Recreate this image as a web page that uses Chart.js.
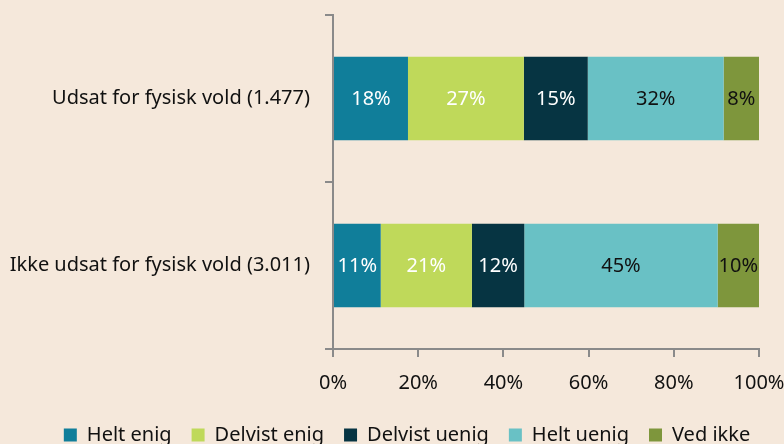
<!DOCTYPE html>
<html lang="da">
<head>
<meta charset="utf-8">
<title>Fysisk vold</title>
<script src="https://cdn.jsdelivr.net/npm/chart.js@4/dist/chart.umd.min.js"></script>
<style>
  body { margin: 0; background: #f5e8db; }
  #wrap { width: 784px; height: 444px; position: relative; }
</style>
</head>
<body>
<div id="wrap"><canvas id="voldChart"></canvas></div>
<script>
// groups on the y axis
const groups = ['Udsat for fysisk vold (1.477)', 'Ikke udsat for fysisk vold (3.011)'];

// answer categories (one dataset each)
const answers = ['Helt enig', 'Delvist enig', 'Delvist uenig', 'Helt uenig', 'Ved ikke'];

// share in percent (first = udsat, second = ikke udsat)
const heltEnig = [17.6, 11.2];
const delvistEnig = [27.2, 21.4];
const delvistUenig = [15.0, 12.3];
const heltUenig = [31.9, 45.4];
const vedIkke = [8.3, 9.7];

const xTicks = [0, 20, 40, 60, 80, 100];

const colors = ['#107e9a', '#bfd95a', '#063442', '#69c1c5', '#7e963c'];
const labelColors = ['#ffffff', '#ffffff', '#ffffff', '#111111', '#111111'];

const FONT = '"Noto Sans", "Open Sans", sans-serif';
const AXIS_GREY = '#8a8a8a';

function initChart() {
  const series = [heltEnig, delvistEnig, delvistUenig, heltUenig, vedIkke];

  const datasets = answers.map((name, i) => ({
    label: name,
    data: series[i],
    backgroundColor: colors[i],
    borderWidth: 0,
    barPercentage: 0.5,
    categoryPercentage: 1.0
  }));

  // write the rounded percent in the middle of each segment
  const barLabels = {
    id: 'barLabels',
    afterDatasetsDraw(chart) {
      const ctx = chart.ctx;
      ctx.save();
      ctx.font = '20px ' + FONT;
      ctx.textAlign = 'center';
      ctx.textBaseline = 'middle';
      chart.data.datasets.forEach((ds, i) => {
        const meta = chart.getDatasetMeta(i);
        meta.data.forEach((bar, j) => {
          ctx.fillStyle = labelColors[i];
          ctx.fillText(Math.round(ds.data[j]) + '%', (bar.x + bar.base) / 2, bar.y + 1);
        });
      });
      ctx.restore();
    }
  };

  // legend sits a bit right of centre in the original
  const nudgeLegend = {
    id: 'nudgeLegend',
    afterLayout(chart) {
      if (chart.legend) chart.legend.left += 30;
    }
  };

  new Chart(document.getElementById('voldChart'), {
    type: 'bar',
    data: { labels: groups, datasets: datasets },
    plugins: [barLabels, nudgeLegend],
    options: {
      indexAxis: 'y',
      responsive: true,
      maintainAspectRatio: false,
      animation: false,
      layout: { padding: { top: 15, left: 0, right: 0, bottom: -11 } },
      plugins: {
        tooltip: { enabled: false },
        legend: {
          position: 'bottom',
          labels: {
            font: { family: FONT, size: 20 },
            color: '#111',
            boxWidth: 13,
            boxHeight: 13,
            padding: 20
          }
        }
      },
      scales: {
        x: {
          stacked: true,
          min: 0,
          max: 100,
          afterBuildTicks: function(scale) {
            scale.ticks = xTicks.map(v => ({ value: v }));
          },
          afterFit: function(scale) {
            scale.height = 56;
            scale.paddingRight = 25;
          },
          ticks: {
            color: '#111',
            font: { family: FONT, size: 20 },
            padding: 14,
            maxRotation: 0,
            callback: v => v + '%'
          },
          grid: {
            drawOnChartArea: false,
            drawTicks: true,
            tickLength: 8,
            color: AXIS_GREY,
            lineWidth: 2
          },
          border: { color: AXIS_GREY, width: 2 }
        },
        y: {
          stacked: true,
          afterFit: function(scale) {
            scale.width = 333;
            scale.paddingTop = 0;
            scale.paddingBottom = 0;
          },
          ticks: {
            color: '#111',
            font: { family: FONT, size: 20 },
            padding: 15
          },
          grid: {
            drawOnChartArea: false,
            drawTicks: true,
            tickLength: 8,
            color: AXIS_GREY,
            lineWidth: 2
          },
          border: { color: AXIS_GREY, width: 2 }
        }
      }
    }
  });
}

document.addEventListener('DOMContentLoaded', initChart);
</script>
</body>
</html>
